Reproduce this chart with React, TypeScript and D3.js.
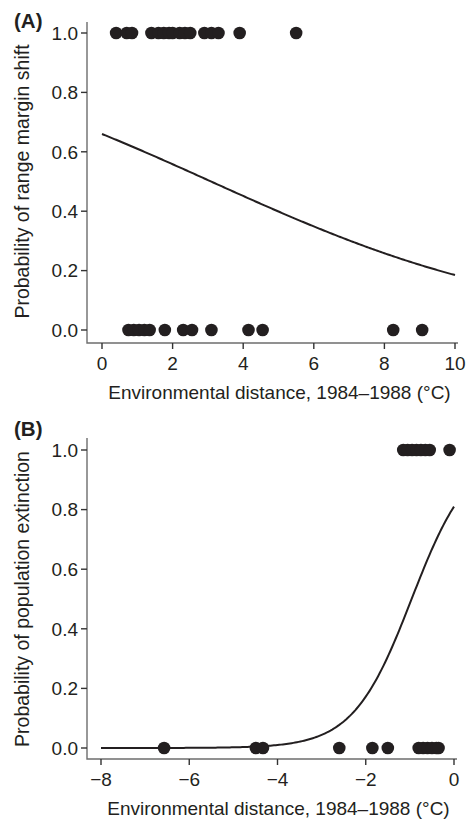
import React from "react";
import * as d3 from "d3";

// Panel A data: environmental distance (°C) of range margin shifts (1) and non-shifts (0)
const shiftA: number[] = [0.4, 0.7, 0.85, 1.4, 1.6, 1.75, 1.9, 2.0, 2.2, 2.35, 2.5, 2.9, 3.1, 3.3, 3.9, 5.5];
const noShiftA: number[] = [0.75, 0.9, 1.05, 1.2, 1.35, 1.78, 2.3, 2.55, 3.1, 4.15, 4.55, 8.25, 9.07];
const ticksXA: number[] = [0, 2, 4, 6, 8, 10];
// logistic fit A: intercept, slope
const fitA: number[] = [0.663, -0.2146];

// Panel B data
const extinctB: number[] = [-1.15, -1.05, -0.95, -0.85, -0.75, -0.65, -0.55, -0.1];
const persistB: number[] = [-6.57, -4.49, -4.33, -2.6, -1.85, -1.5, -0.8, -0.7, -0.6, -0.5, -0.4, -0.35];
const ticksXB: number[] = [-8, -6, -4, -2, 0];
const fitB: number[] = [1.45, 1.51];

const ticksY: number[] = [0, 0.2, 0.4, 0.6, 0.8, 1.0];

const FONT = "'Liberation Sans', Arial, Helvetica, sans-serif";
const DOT = "#231f20";
const AXIS = "#6d6d6d";

type PanelProps = {
  label: string;
  yTitle: string;
  xDomain: [number, number];
  xRange: [number, number];
  yRange: [number, number];
  xTicks: number[];
  ones: number[];
  zeros: number[];
  fit: number[];
  axisTop: number;
  xAxisY: number;
  labelY: number;
  yTitleX: number;
};

function Panel(p: PanelProps) {
  const x = d3.scaleLinear().domain(p.xDomain).range(p.xRange);
  const y = d3.scaleLinear().domain([0, 1]).range(p.yRange);
  const xs = d3.range(0, 201).map((i) => p.xDomain[0] + ((p.xDomain[1] - p.xDomain[0]) * i) / 200);
  const line = d3
    .line<number>()
    .x((d) => x(d))
    .y((d) => y(1 / (1 + Math.exp(-(p.fit[0] + p.fit[1] * d)))))
    .curve(d3.curveLinear);
  const axisX = 87;
  const xEnd = p.xRange[1] + 3;
  const yMid = (p.yRange[0] + p.yRange[1]) / 2;
  return (
    <g fontFamily={FONT}>
      <text x={14} y={p.labelY} fontSize={20.5} fontWeight="bold" fill="#231f20">
        {p.label}
      </text>
      {/* axes */}
      <path
        d={`M${axisX},${p.axisTop}V${p.xAxisY}H${xEnd}`}
        fill="none"
        stroke={AXIS}
        strokeWidth={1.4}
      />
      {ticksY.map((t) => (
        <g key={"y" + t}>
          <line x1={axisX - 6} x2={axisX} y1={y(t)} y2={y(t)} stroke="#333" strokeWidth={1.4} />
          <text x={axisX - 9} y={y(t)} dy="0.36em" textAnchor="end" fontSize={19} fill="#231f20">
            {d3.format(".1f")(t)}
          </text>
        </g>
      ))}
      {p.xTicks.map((t) => (
        <g key={"x" + t}>
          <line x1={x(t)} x2={x(t)} y1={p.xAxisY} y2={p.xAxisY + 6} stroke="#333" strokeWidth={1.4} />
          <text x={x(t)} y={p.xAxisY + 27} textAnchor="middle" fontSize={19} fill="#231f20">
            {t < 0 ? "\u2212" + Math.abs(t) : String(t)}
          </text>
        </g>
      ))}
      <text
        x={(p.xRange[0] + p.xRange[1]) / 2 + 1}
        y={p.xAxisY + 56}
        textAnchor="middle"
        fontSize={19}
        fill="#231f20"
      >
        Environmental distance, 1984–1988 (°C)
      </text>
      <text
        transform={`translate(${p.yTitleX},${yMid}) rotate(-90)`}
        textAnchor="middle"
        fontSize={19.5}
        fill="#231f20"
      >
        {p.yTitle}
      </text>
      <path d={line(xs) || ""} fill="none" stroke="#231f20" strokeWidth={2} />
      {p.ones.map((v, i) => (
        <circle key={"o" + i} cx={x(v)} cy={y(1)} r={6.3} fill={DOT} />
      ))}
      {p.zeros.map((v, i) => (
        <circle key={"z" + i} cx={x(v)} cy={y(0)} r={6.3} fill={DOT} />
      ))}
    </g>
  );
}

export default function App() {
  return (
    <svg
      width={469}
      height={820}
      style={{ position: "absolute", left: 0, top: 0, background: "#fff" }}
    >
      <Panel
        label="(A)"
        yTitle="Probability of range margin shift"
        xDomain={[0, 10]}
        xRange={[102, 455]}
        yRange={[330, 33]}
        xTicks={ticksXA}
        ones={shiftA}
        zeros={noShiftA}
        fit={fitA}
        axisTop={22}
        xAxisY={343}
        labelY={28}
        yTitleX={29}
      />
      <Panel
        label="(B)"
        yTitle="Probability of population extinction"
        xDomain={[-8, 0]}
        xRange={[101, 454]}
        yRange={[748, 450]}
        xTicks={ticksXB}
        ones={extinctB}
        zeros={persistB}
        fit={fitB}
        axisTop={438}
        xAxisY={759}
        labelY={436}
        yTitleX={29}
      />
    </svg>
  );
}
